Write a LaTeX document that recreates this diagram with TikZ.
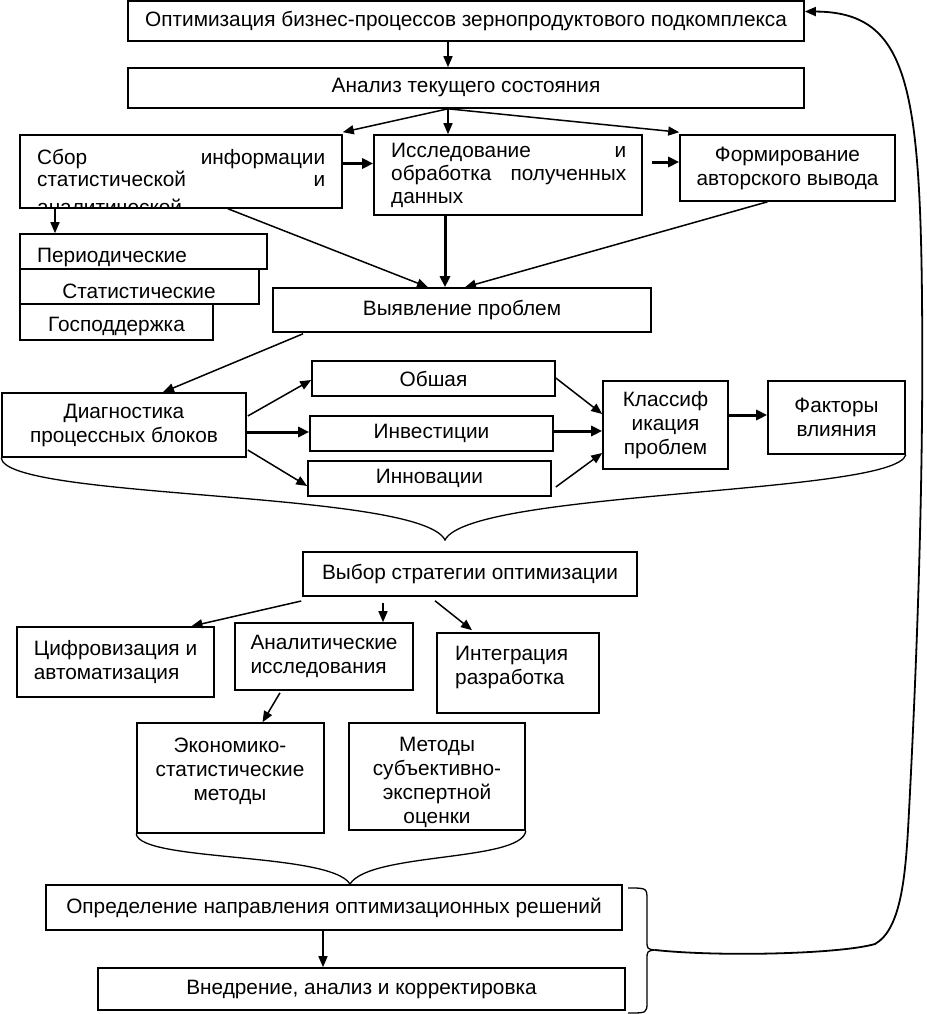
\documentclass[tikz,border=0pt]{standalone}
\usepackage{fontspec}
\setmainfont{Liberation Sans}
\usetikzlibrary{arrows.meta}
\begin{document}
\begin{tikzpicture}[x=1pt,y=-1pt,
  box/.style={draw, line width=1.6pt, inner sep=0pt, align=center, font=\fontsize{20.8}{24}\selectfont},
  txt/.style={inner sep=0pt, font=\fontsize{20.8}{24}\selectfont},
  arr/.style={line width=1.5pt, -{Triangle[length=11pt,width=9pt]}},
  tarr/.style={line width=3pt, -{Triangle[length=11pt,width=10pt]}},
  brace/.style={line width=1.3pt},
  loopline/.style={line width=1.8pt, -{Triangle[length=11pt,width=9pt]}}]
\useasboundingbox (0,0) rectangle (926,1014);

% boxes
\node[box, minimum width=676pt, minimum height=40pt] (top) at (466,21) {Оптимизация бизнес-процессов зернопродуктового подкомплекса};
\node[box, minimum width=676pt, minimum height=40pt] (anal) at (466,88) {Анализ текущего состояния};
\node[box, minimum width=322pt, minimum height=73pt] (sbor) at (181,171.5) {};
\begin{scope}
  \clip (sbor.south west) rectangle (sbor.north east);
  \node[txt, anchor=north west, align=left, font=\fontsize{20.8}{22}\selectfont] (sborT) at (37,149) {\makebox[288pt]{Сбор\hfill информации}\\\makebox[288pt]{статистической\hfill и}\\[6pt]аналитической};
\end{scope}
\node[box, minimum width=268pt, minimum height=80pt] (issl) at (508,175) {};
\node[txt, anchor=north west, align=left, font=\fontsize{20.8}{23}\selectfont] (isslT) at (391,143) {\makebox[235pt]{Исследование\hfill и}\\\makebox[235pt]{обработка\hfill полученных}\\данных};
\node[box, minimum width=215pt, minimum height=66pt] (form) at (787.5,168) {Формирование\\авторского вывода};

\node[box, minimum width=247pt, minimum height=35pt] (period) at (143.5,251.5) {};
\node[txt, anchor=west] (periodT) at (37,258) {Периодические};
\node[box, minimum width=239pt, minimum height=35pt] (stat) at (139.5,286.5) {};
\node[txt] (statT) at (139,291) {Статистические};
\node[box, minimum width=193pt, minimum height=36pt] (gos) at (116.5,322) {};
\node[txt] (gosT) at (116.5,326) {Господдержка};

\node[box, minimum width=378pt, minimum height=44pt] (vyyav) at (462,310) {Выявление проблем};

\node[box, minimum width=244pt, minimum height=64pt] (diag) at (124,425) {Диагностика\\процессных блоков};
\node[box, minimum width=243pt, minimum height=35pt] (obsh) at (433.5,378.5) {Обшая};
\node[box, minimum width=243pt, minimum height=35pt] (inv) at (431.5,433.5) {Инвестиции};
\node[box, minimum width=243pt, minimum height=35pt] (innov) at (429.5,478.5) {Инновации};
\node[box, minimum width=125pt, minimum height=88pt] (klass) at (665.5,425) {Классиф\\икация\\проблем};
\node[box, minimum width=137pt, minimum height=73pt] (fakt) at (836.5,417.5) {Факторы\\влияния};

\node[box, minimum width=334pt, minimum height=44pt] (vybor) at (470,574) {Выбор стратегии оптимизации};
\node[box, minimum width=197pt, minimum height=70pt, align=left] (cifr) at (115.5,662) {Цифровизация и\\автоматизация};
\node[box, minimum width=178pt, minimum height=67pt, align=left] (analit) at (324,656.5) {Аналитические\\исследования};
\node[box, minimum width=162pt, minimum height=80pt] (integr) at (518,673) {};
\node[txt, anchor=west, align=left] (integrT) at (455,667) {Интеграция\\разработка};
\node[box, minimum width=187pt, minimum height=110pt] (ekon) at (230.5,778) {};
\node[txt, align=center] (ekonT) at (230,771) {Экономико-\\статистические\\методы};
\node[box, minimum width=176pt, minimum height=107pt] (metod) at (437,776.5) {};
\node[txt, align=center] (metodT) at (437,782) {Методы\\субъективно-\\экспертной\\оценки};

\node[box, minimum width=576pt, minimum height=45pt] (opred) at (334,907.5) {Определение направления оптимизационных решений};
\node[box, minimum width=527pt, minimum height=42pt] (vnedr) at (361.5,989) {Внедрение, анализ и корректировка};

% connectors
\coordinate (as) at ([xshift=-18pt]anal.south);
\draw[arr] ([xshift=-18pt]top.south) -- ([xshift=-18pt]anal.north);
\draw[arr] (as) -- ([yshift=2pt]sbor.north east);
\draw[arr] (as) -- (as |- issl.north);
\draw[arr] (as) -- ([yshift=2pt]form.north west);
\draw[tarr] ([yshift=8pt]sbor.east) -- ([yshift=8pt]sbor.east -| issl.west);
\draw[tarr] ([xshift=9pt,yshift=13pt]issl.east) -- ([yshift=13pt]issl.east -| form.west);
\draw[arr] ([xshift=47pt]sbor.south) -- ([xshift=-34pt]vyyav.north);
\draw[tarr] (issl.south -| 445,0) -- (vyyav.north -| 445,0);
\draw[arr] ([xshift=-20pt]form.south) -- ([xshift=3pt]vyyav.north);
\draw[arr] (55,208) -- (period.north -| 55,0);
\draw[arr] ([xshift=-159pt,yshift=-1pt]vyyav.south) -- ([xshift=39pt]diag.north);
\draw[arr] ([xshift=1pt,yshift=9pt]diag.east) -- ([yshift=-1.5pt]obsh.west);
\draw[tarr] ([yshift=-7pt]diag.east) -- ([yshift=-7pt]diag.east -| inv.west);
\draw[arr] ([xshift=1pt,yshift=-25pt]diag.east) -- ([yshift=-7.5pt]innov.west);
\draw[arr] ([yshift=0.5pt]obsh.east) -- ([yshift=11pt]klass.west);
\draw[tarr] ([yshift=2.5pt]inv.east) -- ([yshift=2.5pt]inv.east -| klass.west);
\draw[arr] ([xshift=4pt,yshift=-8.5pt]innov.east) -- ([yshift=-28pt]klass.west);
\draw[tarr] ([yshift=10pt]klass.east) -- ([yshift=10pt]klass.east -| fakt.west);
\draw[arr] ([xshift=-1pt,yshift=-27pt]vybor.west) -- ([xshift=76pt]cifr.north);
\draw[arr] ([xshift=-87pt,yshift=-6pt]vybor.south) -- ([xshift=59pt]analit.north);
\draw[arr] ([xshift=-35pt,yshift=-4pt]vybor.south) -- ([xshift=-46pt,yshift=2pt]integr.north);
\draw[arr] ([xshift=-44pt,yshift=-2pt]analit.south) -- ([xshift=32pt]ekon.north);
\draw[arr] ([xshift=-11pt]opred.south) -- ([xshift=-38.5pt]vnedr.north);

% braces
\draw[brace] (diag.south west) .. controls (5,500) and (420,490) .. (445,540) coordinate (b1)
  .. controls (470,490) and (895,495) .. (fakt.south east);
\draw[brace] (ekon.south west) .. controls (140,862) and (330,852) .. (350,884) coordinate (b2)
  .. controls (370,852) and (522,862) .. (metod.south east);
\draw[brace] (628,888) .. controls (647,888) .. (647,900) -- (647,940) .. controls (647,949) .. (655,950) coordinate (rb)
  .. controls (647,951) .. (647,960) -- (647,1002) .. controls (647,1013) .. (628,1013);

% feedback loop
\draw[loopline] (rb) .. controls (720,957) and (840,954) .. (875,944)
  .. controls (900,930) and (905,880) .. (908,830)
  .. controls (915,700) and (924,500) .. (922,300)
  .. controls (920,80) and (905,12) .. ([yshift=9.5pt]top.east);
\end{tikzpicture}
\end{document}
